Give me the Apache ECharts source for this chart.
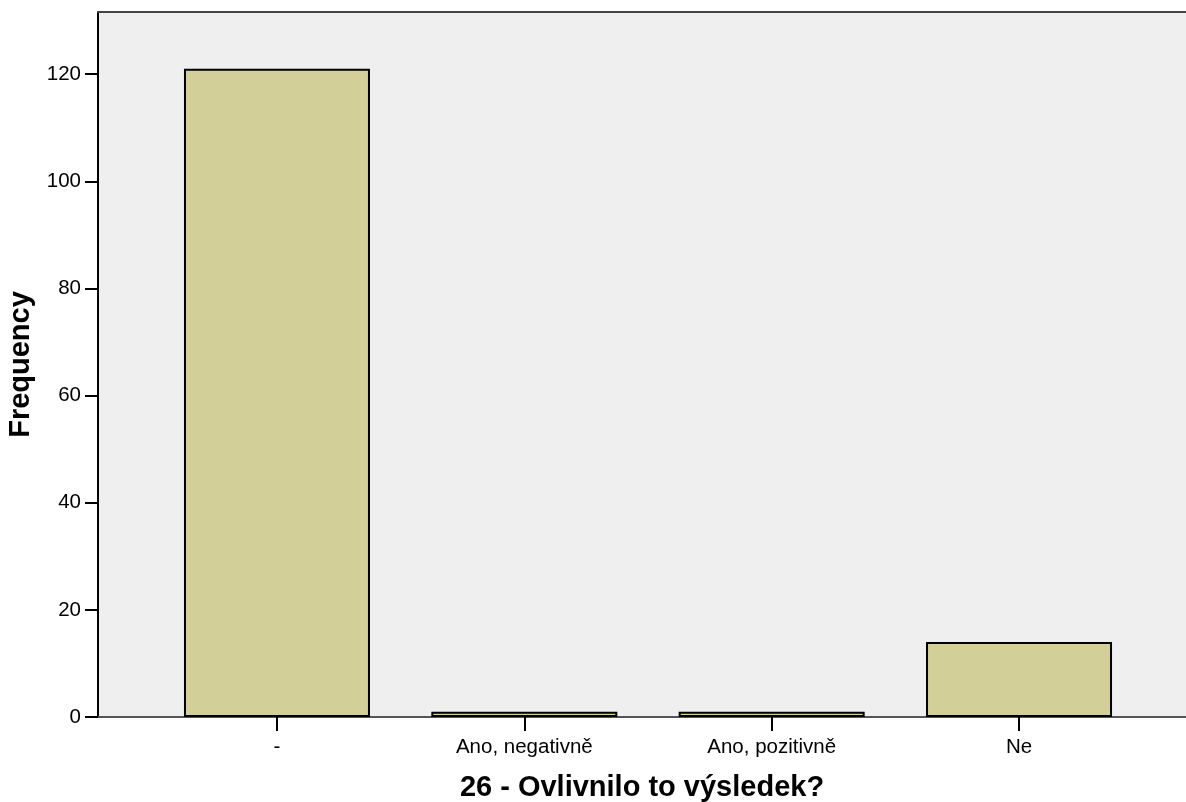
<!DOCTYPE html>
<html>
<head>
<meta charset="utf-8">
<script src="https://cdn.jsdelivr.net/npm/echarts@6/dist/echarts.min.js"></script>
<style>
html,body{margin:0;padding:0;background:#fff;}
#chart{width:1186px;height:802px;}
</style>
</head>
<body>
<div id="chart"></div>
<script>
const categories = ['-', 'Ano, negativně', 'Ano, pozitivně', 'Ne'];
const frequencies = [121, 1, 1, 14];
const yTicks = [0, 20, 40, 60, 80, 100, 120];
const yMax = 131.6;
const xTitle = '26 - Ovlivnilo to výsledek?';
const yTitle = 'Frequency';

const chart = echarts.init(document.getElementById('chart'), null, {renderer: 'canvas'});
const font = 'Liberation Sans, Arial, sans-serif';

chart.setOption({
  animation: false,
  backgroundColor: '#ffffff',
  grid: [
    {left: 98, right: 0, top: 12, bottom: 85, show: true, backgroundColor: '#efefef', borderWidth: 0,
     containLabel: false, outerBoundsMode: 'none'},
    {left: 153.3, right: 43.3, top: 12, bottom: 85, containLabel: false, outerBoundsMode: 'none'}
  ],
  xAxis: [
    {gridIndex: 0, type: 'value', min: 0, max: 1, position: 'bottom',
     axisLine: {show: true, onZero: false, lineStyle: {color: '#555555', width: 2}},
     axisTick: {show: false}, axisLabel: {show: false}, splitLine: {show: false},
     name: xTitle, nameLocation: 'middle', nameGap: 56,
     nameTextStyle: {fontFamily: font, fontSize: 29, fontWeight: 'bold', color: '#000'}
    },
    {gridIndex: 1, type: 'category', data: categories, position: 'bottom',
     axisLine: {show: false},
     axisTick: {show: true, alignWithLabel: true, length: 14, lineStyle: {color: '#000', width: 2}},
     axisLabel: {fontFamily: font, fontSize: 20.5, color: '#000', margin: 20}
    },
    {gridIndex: 0, type: 'value', min: 0, max: 1, position: 'top',
     axisLine: {show: true, onZero: false, lineStyle: {color: '#444444', width: 2}},
     axisTick: {show: false}, axisLabel: {show: false}, splitLine: {show: false}
    }
  ],
  yAxis: [
    {gridIndex: 0, type: 'value', min: 0, max: yMax,
     axisLine: {show: true, lineStyle: {color: '#000', width: 2}},
     axisTick: {show: true, inside: false, length: 13, lineStyle: {color: '#000', width: 2}, customValues: yTicks},
     axisLabel: {fontFamily: font, fontSize: 20.5, color: '#000', margin: 17, customValues: yTicks},
     splitLine: {show: false},
     name: yTitle, nameLocation: 'middle', nameGap: 57, nameRotate: 90,
     nameTextStyle: {fontFamily: font, fontSize: 29, fontWeight: 'bold', color: '#000'}
    },
    {gridIndex: 1, type: 'value', min: 0, max: yMax, show: false}
  ],
  series: [{
    type: 'bar', xAxisIndex: 1, yAxisIndex: 1,
    data: frequencies,
    barWidth: 186,
    itemStyle: {color: '#d3cf98', borderColor: '#000', borderWidth: 2}
  }]
});
</script>
</body>
</html>
